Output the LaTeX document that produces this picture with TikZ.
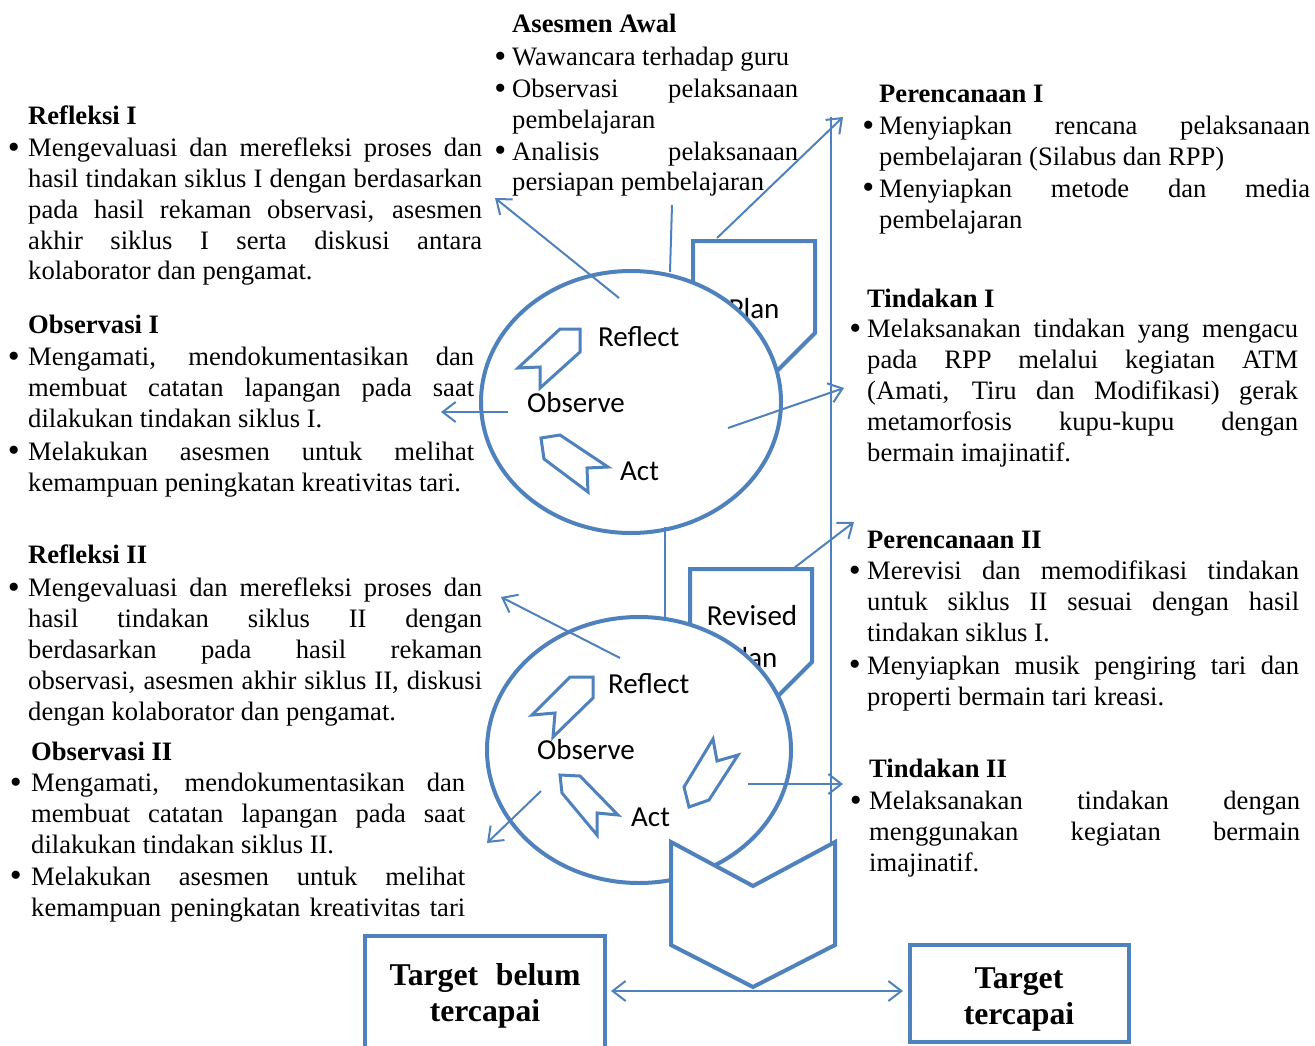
\documentclass[tikz,border=0pt]{standalone}
\usepackage{fontspec}
\setmainfont{Liberation Serif}
\newfontfamily\calib{Carlito}
\usetikzlibrary{shapes.geometric,arrows.meta}
\definecolor{ob}{HTML}{4F81BD}
\newcommand\jl[1]{\makebox[\linewidth][s]{#1}}
\newcommand\bul[1][9pt]{\leavevmode\llap{\raisebox{-1.5pt}{\fontsize{34pt}{34pt}\selectfont\textbullet}\hspace{#1}}}
\begin{document}
\begin{tikzpicture}[x=1pt,y=-1pt,
  txt/.style={inner sep=0, anchor=base west, font=\fontsize{26.6pt}{30.8pt}\selectfont},
  tgt/.style={inner sep=0, anchor=base, font=\bfseries\fontsize{31.7pt}{36pt}\selectfont},
  lab/.style={inner sep=0, font=\calib\fontsize{29pt}{34pt}\selectfont},
  shp/.style={draw=ob, line width=4pt, fill=white, line join=miter},
  sarr/.style={draw=ob, line width=3pt, fill=white, line join=miter},
  conn/.style={draw=ob, line width=2pt},
  arr/.style={conn, -{Straight Barb[length=13pt,width=20pt]}},
  tbox/.style={draw=ob, line width=4pt, inner sep=0}]
\useasboundingbox (0,0) rectangle (1315,1046);
\clip (0,0) rectangle (1315,1046);

% ---------- text blocks ----------
\begin{scope}
\clip (480,0) rectangle (812,195);
\node[txt] (aw) at (512,33) {\begin{minipage}[t]{286pt}
\textbf{Asesmen Awal}\\[2pt]
\bul[6pt]Wawancara terhadap guru\\[1pt]
\bul[6pt]\jl{Observasi pelaksanaan}\\
pembelajaran\\[1pt]
\bul[6pt]\jl{Analisis pelaksanaan}\\
persiapan pembelajaran
\end{minipage}};
\end{scope}

\node[txt] (r1) at (28,125) {\begin{minipage}[t]{454pt}
\textbf{Refleksi I}\\[1pt]
\bul[8.5pt]\jl{Mengevaluasi dan merefleksi proses dan}\\
\jl{hasil tindakan siklus I dengan berdasarkan}\\
\jl{pada hasil rekaman observasi, asesmen}\\
\jl{akhir siklus I serta diskusi antara}\\
kolaborator dan pengamat.
\end{minipage}};

\node[txt] (o1) at (28,333) {\begin{minipage}[t]{446pt}
\textbf{Observasi I}\\[2pt]
\bul[8.5pt]\jl{Mengamati, mendokumentasikan dan}\\
\jl{membuat catatan lapangan pada saat}\\
dilakukan tindakan siklus I.\\[2pt]
\bul[8.5pt]\jl{Melakukan asesmen untuk melihat}\\
kemampuan peningkatan kreativitas tari.
\end{minipage}};

\node[txt] (r2) at (28,563) {\begin{minipage}[t]{454pt}
\textbf{Refleksi II}\\[3pt]
\bul[8.5pt]\jl{Mengevaluasi dan merefleksi proses dan}\\
\jl{hasil tindakan siklus II dengan}\\
\jl{berdasarkan pada hasil rekaman}\\
\jl{observasi, asesmen akhir siklus II, diskusi}\\
dengan kolaborator dan pengamat.
\end{minipage}};

\node[txt] (o2) at (31,760) {\begin{minipage}[t]{434pt}
\textbf{Observasi II}\\[1pt]
\bul[9.5pt]\jl{Mengamati, mendokumentasikan dan}\\
\jl{membuat catatan lapangan pada saat}\\
dilakukan tindakan siklus II.\\[1pt]
\bul[9.5pt]\jl{Melakukan asesmen untuk melihat}\\
\jl{kemampuan peningkatan kreativitas tari}
\end{minipage}};

\node[txt] (p1) at (879,103) {\begin{minipage}[t]{431pt}
\textbf{Perencanaan I}\\[1pt]
\bul[5pt]\jl{Menyiapkan rencana pelaksanaan}\\
pembelajaran (Silabus dan RPP)\\[1pt]
\bul[5pt]\jl{Menyiapkan metode dan media}\\
pembelajaran
\end{minipage}};

\node[txt] (t1) at (867,307) {\begin{minipage}[t]{431pt}
\textbf{Tindakan I}\\
\bul[6pt]\jl{Melaksanakan tindakan yang mengacu}\\
\jl{pada RPP melalui kegiatan ATM}\\
\jl{(Amati, Tiru dan Modifikasi) gerak}\\
\jl{metamorfosis kupu-kupu dengan}\\
bermain imajinatif.
\end{minipage}};

\node[txt] (p2) at (867,548) {\begin{minipage}[t]{432pt}
\textbf{Perencanaan II}\\[1pt]
\bul[6.5pt]\jl{Merevisi dan memodifikasi tindakan}\\
\jl{untuk siklus II sesuai dengan hasil}\\
tindakan siklus I.\\[2pt]
\bul[6.5pt]\jl{Menyiapkan musik pengiring tari dan}\\
properti bermain tari kreasi.
\end{minipage}};

\node[txt] (t2) at (869,777) {\begin{minipage}[t]{431pt}
\textbf{Tindakan II}\\[2pt]
\bul[7.5pt]\jl{Melaksanakan tindakan dengan}\\
\jl{menggunakan kegiatan bermain}\\
imajinatif.
\end{minipage}};

% ---------- plan pentagons ----------
\draw[shp] (693,241) -- (815,241) -- (815,333) -- (754,394) -- (693,333) -- cycle;
\node[lab, anchor=base] (plan1) at (754,318) {Plan};
\draw[shp] (690,569) -- (812,569) -- (812,662) -- (751,723) -- (690,662) -- cycle;
\node[lab, anchor=base] (rev) at (752,625) {Revised};
\node[lab, anchor=base] (plan2) at (752,667) {Plan};

% ---------- cycles ----------
\node[shp, ellipse, minimum width=300pt, minimum height=262pt, inner sep=0] (c1) at (631,402) {};
\node[shp, ellipse, minimum width=304pt, minimum height=266pt, inner sep=0] (c2) at (639,750) {};

% vertical line and chevron
\coordinate (vt) at (831,117);
\coordinate (vb) at (831,845);
\draw[conn] (vt) -- (vb);
\draw[shp] (671,842) -- (753,886) -- (835,842) -- (835,945) -- (753,987) -- (671,945) -- cycle;
\coordinate (tip) at (753,987);

% small cycle arrows
\draw[sarr] (580,329) -- (580,352) -- (540,388) -- (540,367) -- (518,368) -- (560,329) -- cycle;
\draw[sarr] (541,438) -- (560,435) -- (608,467) -- (587,468) -- (588,492) -- (544,459) -- cycle;
\draw[sarr] (593,677) -- (593,698) -- (553,737) -- (555,713) -- (532,715) -- (570,677) -- cycle;
\draw[sarr] (560,775) -- (580,776) -- (618,815) -- (597,813) -- (597,835) -- (562,793) -- cycle;
\draw[sarr] (713,739) -- (717,761) -- (738,755) -- (709,800) -- (689,807) -- (684,787) -- cycle;

% cycle labels
\node[lab, anchor=base west] (rf1) at (598,346) {Reflect};
\node[lab, anchor=base west] (ob1) at (527,412) {Observe};
\node[lab, anchor=base west] (ac1) at (620,480) {Act};
\node[lab, anchor=base west] (rf2) at (608,693) {Reflect};
\node[lab, anchor=base west] (ob2) at (537,759) {Observe};
\node[lab, anchor=base west] (ac2) at (631,826) {Act};

% ---------- connectors ----------
\coordinate (aw1) at (672,205);
\coordinate (c1t) at (670,272);
\draw[conn] (aw1) -- (c1t);
\coordinate (j1) at (665,527);
\coordinate (j2) at (665,617);
\draw[conn] (j1) -- (j2);

\coordinate (s1) at (619,298);  \coordinate (e1) at (495,198);
\coordinate (s2) at (508,412);  \coordinate (e2) at (441,412);
\coordinate (s3) at (728,428);  \coordinate (e3) at (844,388);
\coordinate (s4) at (717,238);  \coordinate (e4) at (843,117);
\coordinate (s5) at (620,658);  \coordinate (e5) at (501,597);
\coordinate (s6) at (541,791);  \coordinate (e6) at (487,843);
\coordinate (s7) at (748,784);  \coordinate (e7) at (843,784);
\coordinate (s8) at (794,568);  \coordinate (e8) at (854,522);
\draw[arr] (s1) -- (e1);
\draw[arr] (s2) -- (e2);
\draw[arr] (s3) -- (e3);
\draw[arr] (s4) -- (e4);
\draw[arr] (s5) -- (e5);
\draw[arr] (s6) -- (e6);
\draw[arr] (s7) -- (e7);
\draw[arr] (s8) -- (e8);

% ---------- target boxes ----------
\node[tbox, minimum width=240pt, minimum height=130pt] (lbox) at (485,1001) {};
\node[tbox, minimum width=219pt, minimum height=97pt] (rbox) at (1019.5,993.5) {};
\node[tgt] (lt) at (485,985) {\begin{tabular}[t]{@{}c@{}}\makebox[191pt][s]{Target belum}\\tercapai\end{tabular}};
\node[tgt] (rt) at (1019,988) {\begin{tabular}[t]{@{}c@{}}Target\\tercapai\end{tabular}};
\coordinate (la) at (611,991);
\coordinate (ra) at (903,991);
\draw[conn, {Straight Barb[length=13pt,width=20pt]}-{Straight Barb[length=13pt,width=20pt]}] (la) -- (ra);
\end{tikzpicture}
\end{document}
